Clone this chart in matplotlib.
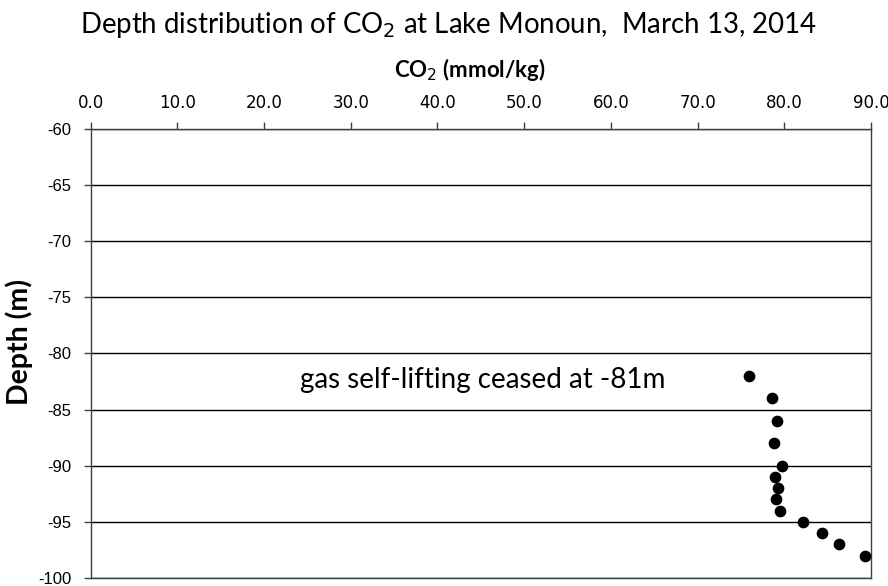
import matplotlib
matplotlib.use('Agg')
import matplotlib.pyplot as plt
import numpy as np

# CO2 concentration (mmol/kg) vs depth (m), Lake Monoun, 13 March 2014
co2 = [75.9, 78.6, 79.2, 78.8, 79.7, 78.9, 79.3, 79.0, 79.5, 82.2, 84.4, 86.3, 89.3]
depth = [-82, -84, -86, -88, -90, -91, -92, -93, -94, -95, -96, -97, -98]

x_ticks = np.arange(0, 91, 10)
y_ticks = np.arange(-100, -59, 5)

fig = plt.figure(figsize=(8.88, 5.86), dpi=100)
ax = fig.add_axes([0.1021, 0.0137, 0.8788, 0.7662])

ax.scatter(co2, depth, s=55, color='black', zorder=3)

ax.set_xlim(0, 90)
ax.set_ylim(-100, -60)
ax.xaxis.tick_top()
ax.xaxis.set_label_position('top')
ax.set_xticks(x_ticks)
ax.set_xticklabels([f"{v:.1f}" for v in x_ticks], family=['Liberation Sans Narrow', 'DejaVu Sans'], fontsize=12)
ax.set_yticks(y_ticks)
ax.set_yticklabels([f"{v}" for v in y_ticks], family=['Liberation Sans', 'DejaVu Sans'], fontsize=12)
ax.tick_params(axis='both', direction='out', length=5, width=1, colors='#404040', labelcolor='black')
ax.tick_params(axis='x', pad=7)
ax.tick_params(axis='y', pad=9)

ax.grid(True, axis='y', color='black', linewidth=1)
for sp in ax.spines.values():
    sp.set_color('#404040')
    sp.set_linewidth(1)

ax.set_xlabel(r'CO$_2$ (mmol/kg)', fontsize=16, fontweight='bold', family=['Lato', 'DejaVu Sans'])
ax.xaxis.set_label_coords(0.486, 1.115)
ax.set_ylabel('Depth (m)', fontsize=20.5, fontweight='bold', family=['Lato', 'DejaVu Sans'])
ax.yaxis.set_label_coords(-0.074, 0.5245)

fig.text(0.505, 0.9437, r'Depth distribution of CO$_2$ at Lake Monoun,  March 13, 2014',
         ha='center', va='baseline', fontsize=19.9, family=['Lato', 'DejaVu Sans'])

ax.text(24.1, -83.1, 'gas self-lifting ceased at -81m', fontsize=20,
        family=['Lato', 'DejaVu Sans'], va='baseline', ha='left')

fig.savefig('out.png', dpi=100)
